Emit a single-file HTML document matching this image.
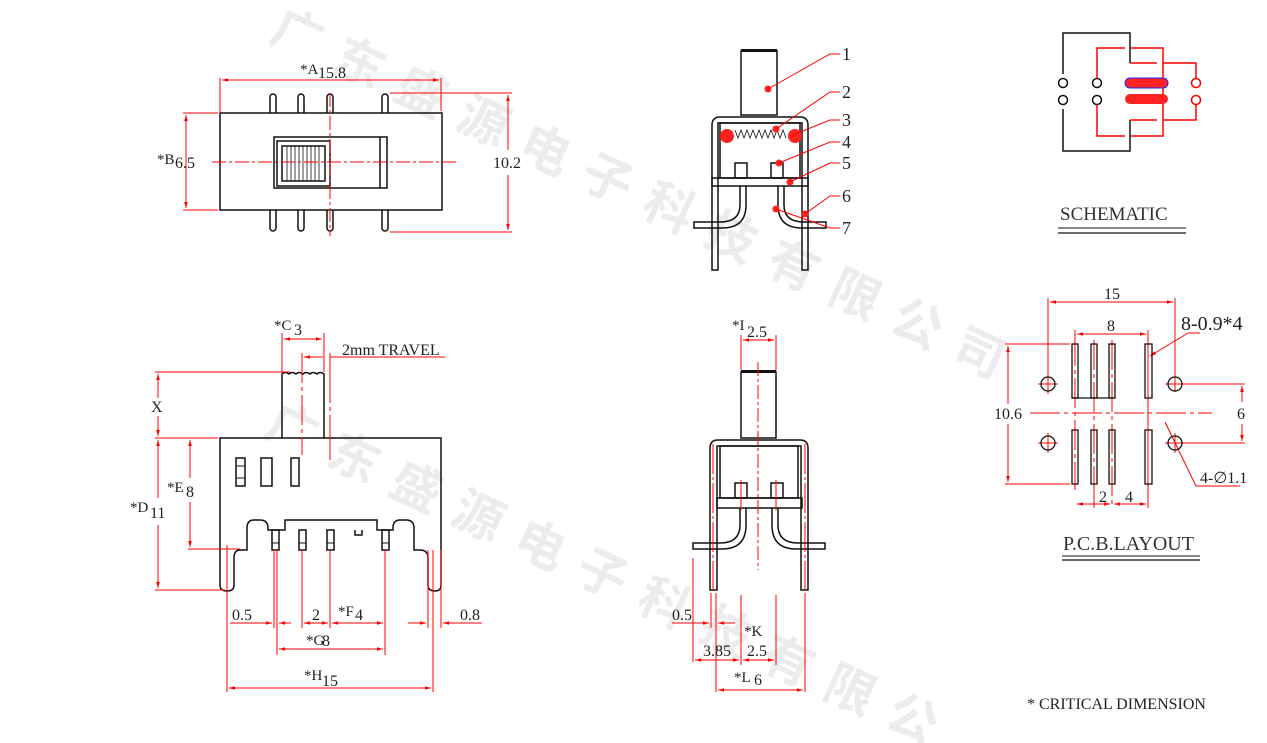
<!DOCTYPE html>
<html><head><meta charset="utf-8"><style>
html,body{margin:0;padding:0;background:#fff;}
svg{display:block;}
text{font-family:"Liberation Serif",serif;fill:#222;}
.wm text{font-family:"Liberation Sans","Noto Sans CJK SC",sans-serif;fill:#ececec;font-size:50px;font-weight:bold;}
.k{stroke:#111;stroke-width:1.5;fill:none;}
.r{stroke:#f00;stroke-width:1;fill:none;}
.cl{stroke:#f00;stroke-width:1;fill:none;stroke-dasharray:14 3 3 3;}
</style></head><body>
<svg width="1267" height="743" viewBox="0 0 1267 743" xmlns="http://www.w3.org/2000/svg">
<defs>
<marker id="a" viewBox="0 0 10 10" refX="10" refY="5" markerWidth="8" markerHeight="6" orient="auto-start-reverse"><path d="M0,2 L10,5 L0,8 z" fill="#f00"/></marker>
</defs>
<!-- watermark -->
<g class="wm" text-anchor="middle">
<text transform="translate(290,50) rotate(25)">广</text>
<text transform="translate(352,79) rotate(25)">东</text>
<text transform="translate(414,108) rotate(25)">盛</text>
<text transform="translate(476,137) rotate(25)">源</text>
<text transform="translate(538,166) rotate(25)">电</text>
<text transform="translate(600,195) rotate(25)">子</text>
<text transform="translate(662,224) rotate(25)">科</text>
<text transform="translate(724,253) rotate(25)">技</text>
<text transform="translate(786,282) rotate(25)">有</text>
<text transform="translate(848,311) rotate(25)">限</text>
<text transform="translate(910,340) rotate(25)">公</text>
<text transform="translate(972,369) rotate(25)">司</text>
<text transform="translate(285,445) rotate(25)">广</text>
<text transform="translate(347,474) rotate(25)">东</text>
<text transform="translate(409,503) rotate(25)">盛</text>
<text transform="translate(471,532) rotate(25)">源</text>
<text transform="translate(533,561) rotate(25)">电</text>
<text transform="translate(595,590) rotate(25)">子</text>
<text transform="translate(657,619) rotate(25)">科</text>
<text transform="translate(719,648) rotate(25)">技</text>
<text transform="translate(781,677) rotate(25)">有</text>
<text transform="translate(843,706) rotate(25)">限</text>
<text transform="translate(905,735) rotate(25)">公</text>
</g>

<!-- ===== TOP VIEW ===== -->
<g class="k">
<rect x="220" y="113" width="222" height="97"/>
<rect x="274" y="137" width="113" height="51"/>
<rect x="277" y="141" width="53" height="45"/>
<rect x="282" y="146" width="43" height="35"/>
<line x1="380" y1="137" x2="380" y2="188"/>
<path d="M270,113 V97 a3,3 0 0 1 6,0 V113 M298,113 V97 a3,3 0 0 1 6,0 V113 M327,113 V97 a3,3 0 0 1 6,0 V113 M382,113 V97 a3,3 0 0 1 6,0 V113"/>
<path d="M270,210 V228 a3,3 0 0 0 6,0 V210 M298,210 V228 a3,3 0 0 0 6,0 V210 M327,210 V228 a3,3 0 0 0 6,0 V210 M382,210 V228 a3,3 0 0 0 6,0 V210"/>
</g>
<g stroke="#111" stroke-width="0.8">
<line x1="287" y1="146" x2="287" y2="181"/><line x1="291" y1="146" x2="291" y2="181"/><line x1="295" y1="146" x2="295" y2="181"/><line x1="299" y1="146" x2="299" y2="181"/><line x1="303" y1="146" x2="303" y2="181"/><line x1="307" y1="146" x2="307" y2="181"/><line x1="311" y1="146" x2="311" y2="181"/><line x1="315" y1="146" x2="315" y2="181"/><line x1="319" y1="146" x2="319" y2="181"/>
</g>
<line class="cl" x1="212" y1="162" x2="458" y2="162"/>
<line class="cl" x1="330" y1="93" x2="330" y2="236"/>
<g class="r">
<line x1="220" y1="78" x2="220" y2="113"/><line x1="441" y1="78" x2="441" y2="111"/>
<line x1="222" y1="80" x2="439" y2="80" marker-start="url(#a)" marker-end="url(#a)"/>
<line x1="183" y1="113" x2="218" y2="113"/><line x1="183" y1="210" x2="218" y2="210"/>
<line x1="186" y1="115" x2="186" y2="208" marker-start="url(#a)" marker-end="url(#a)"/>
<line x1="390" y1="93" x2="512" y2="93"/><line x1="390" y1="232" x2="512" y2="232"/>
<line x1="508" y1="95" x2="508" y2="150" marker-start="url(#a)"/>
<line x1="508" y1="175" x2="508" y2="230" marker-end="url(#a)"/>
</g>
<text x="300" y="74" font-size="15">*A</text><text x="318" y="78" font-size="16">15.8</text>
<text x="157" y="164" font-size="15">*B</text><text x="175" y="168" font-size="16">6.5</text>
<text x="493" y="168" font-size="16">10.2</text>

<!-- ===== FRONT VIEW ===== -->
<g class="k">
<path d="M220,438 H441 V585 Q441,591 435,591 Q428,591 428,585 V558 Q428,550 420,550 H414 V528 Q414,520 406,520 H400 Q393,520 393,528 V530 H377 V520 H285 V530 H268 V528 Q268,520 260,520 H254 Q247,520 247,528 V550 H240 Q234,550 234,558 V585 Q234,591 227,591 Q220,591 220,585 Z"/>
<path d="M282,438 V374 q3,-3 7,0 q3,-3 7,0 q3,-3 7,0 q3,-3 7,0 q3,-3 7,0 q3,-3 7,0 V438"/>
<rect x="236" y="458" width="9" height="28"/><rect x="261" y="458" width="11" height="28"/><rect x="291" y="458" width="8" height="28"/>
<rect x="272" y="530" width="7" height="20"/><rect x="299" y="530" width="7" height="20"/><rect x="327" y="530" width="7" height="20"/><rect x="382" y="530" width="7" height="20"/>
<path d="M355,530 V535 H362 V530"/>
</g>
<g stroke="#111" stroke-width="1"><line x1="236" y1="466" x2="245" y2="466"/><line x1="236" y1="478" x2="245" y2="478"/><line x1="272" y1="543" x2="279" y2="543"/><line x1="299" y1="543" x2="306" y2="543"/><line x1="327" y1="543" x2="334" y2="543"/><line x1="382" y1="543" x2="389" y2="543"/></g>
<g class="r">
<line x1="282" y1="333" x2="282" y2="372"/><line x1="324" y1="333" x2="324" y2="372"/>
<line x1="284" y1="339" x2="322" y2="339" marker-start="url(#a)" marker-end="url(#a)"/>
<line x1="302" y1="353" x2="302" y2="455" stroke-dasharray="30 4 4 4"/>
<line x1="330" y1="353" x2="330" y2="460" stroke-dasharray="50 4 4 4"/>
<line x1="304" y1="357" x2="323" y2="357" marker-start="url(#a)"/>
<line x1="330" y1="357" x2="445" y2="357"/>
<line x1="155" y1="372" x2="290" y2="372"/><line x1="155" y1="438" x2="218" y2="438"/>
<line x1="158" y1="374" x2="158" y2="398" marker-start="url(#a)"/><line x1="158" y1="416" x2="158" y2="436" marker-end="url(#a)"/>
<line x1="158" y1="440" x2="158" y2="498" marker-start="url(#a)"/><line x1="158" y1="525" x2="158" y2="588" marker-end="url(#a)"/>
<line x1="155" y1="590" x2="225" y2="590"/>
<line x1="190" y1="440" x2="190" y2="478" marker-start="url(#a)"/><line x1="190" y1="502" x2="190" y2="547" marker-end="url(#a)"/>
<line x1="188" y1="549" x2="240" y2="549"/>
<line x1="227" y1="552" x2="227" y2="692"/>
<line x1="274" y1="550" x2="274" y2="628"/><line x1="277" y1="550" x2="277" y2="655"/>
<line x1="302" y1="550" x2="302" y2="628"/><line x1="330" y1="550" x2="330" y2="628"/>
<line x1="385" y1="550" x2="385" y2="655"/>
<line x1="428" y1="550" x2="428" y2="628"/><line x1="441" y1="550" x2="441" y2="628"/>
<line x1="433" y1="556" x2="433" y2="692"/>
<line x1="230" y1="623" x2="272" y2="623" marker-end="url(#a)"/>
<line x1="291" y1="623" x2="279" y2="623" marker-end="url(#a)"/>
<line x1="304" y1="623" x2="328" y2="623" marker-start="url(#a)" marker-end="url(#a)"/>
<line x1="332" y1="623" x2="383" y2="623" marker-start="url(#a)" marker-end="url(#a)"/>
<line x1="408" y1="623" x2="426" y2="623" marker-end="url(#a)"/>
<line x1="482" y1="623" x2="443" y2="623" marker-end="url(#a)"/>
<line x1="279" y1="649" x2="383" y2="649" marker-start="url(#a)" marker-end="url(#a)"/>
<line x1="229" y1="688" x2="431" y2="688" marker-start="url(#a)" marker-end="url(#a)"/>
</g>
<line class="cl" x1="227" y1="545" x2="227" y2="600"/><line class="cl" x1="433" y1="550" x2="433" y2="600"/>
<text x="274" y="330" font-size="15">*C</text><text x="294" y="335" font-size="16">3</text>
<text x="342" y="355" font-size="16">2mm TRAVEL</text>
<text x="151" y="412" font-size="16">X</text>
<text x="167" y="492" font-size="15">*E</text><text x="186" y="497" font-size="16">8</text>
<text x="130" y="512" font-size="15">*D</text><text x="150" y="518" font-size="16">11</text>
<text x="232" y="620" font-size="16">0.5</text>
<text x="312" y="620" font-size="16">2</text>
<text x="338" y="616" font-size="15">*F</text><text x="355" y="620" font-size="16">4</text>
<text x="460" y="620" font-size="16">0.8</text>
<text x="306" y="645" font-size="15">*G</text><text x="322" y="646" font-size="16">8</text>
<text x="304" y="680" font-size="15">*H</text><text x="322" y="686" font-size="16">15</text>

<!-- ===== SIDE VIEW TOP ===== -->
<g class="k">
<rect x="741" y="51" width="36" height="64"/>
<path d="M712,270 V125 Q712,117 720,117 H800 Q808,117 808,125 V270 H802 V123 H718 V270 Z"/>
<rect x="720" y="123" width="80" height="55"/>
<rect x="712" y="178" width="96" height="8"/>
<rect x="735" y="163" width="12" height="15"/><rect x="771" y="163" width="12" height="15"/>
<path d="M740,186 V205 Q740,222 720,222 H694 V228 H722 Q746,228 746,205 V186"/>
<path d="M778,186 V205 Q778,228 802,228 H826 V222 H804 Q784,222 784,205 V186"/>
<path d="M735,130 l3,8 l3,-8 l3,8 l3,-8 l3,8 l3,-8 l3,8 l3,-8 l3,8 l3,-8 l3,8 l3,-8 l3,8 l3,-8 l3,8 l3,-8 l3,8" stroke-width="0.8"/>
</g>
<rect x="741" y="49" width="36" height="3" fill="#111"/>
<g fill="#f22"><circle cx="727" cy="136" r="7"/><circle cx="795" cy="136" r="7"/><circle cx="768" cy="89" r="3.5"/><circle cx="776" cy="129" r="3.5"/><circle cx="779" cy="163" r="3.5"/><circle cx="790" cy="182" r="3.5"/><circle cx="805" cy="214" r="3.5"/><circle cx="776" cy="209" r="3.5"/></g>
<g class="r">
<path d="M768,89 L830,54 H840"/><path d="M776,129 L830,92 H840"/><path d="M793,135 L830,120 H840"/><path d="M779,163 L830,142 H840"/><path d="M790,182 L830,163 H840"/><path d="M805,214 L830,196 H840"/><path d="M776,209 L830,228 H840"/>
</g>
<g font-size="18"><text x="842" y="60">1</text><text x="842" y="98">2</text><text x="842" y="126">3</text><text x="842" y="148">4</text><text x="842" y="169">5</text><text x="842" y="202">6</text><text x="842" y="234">7</text></g>

<!-- ===== SIDE VIEW BOTTOM ===== -->
<g class="k">
<rect x="741" y="372" width="35" height="66"/>
<path d="M710,590 V448 Q710,440 718,440 H800 Q808,440 808,448 V590 H801 V446 H717 V590 Z"/>
<rect x="720" y="446" width="78" height="52"/>
<rect x="717" y="498" width="85" height="10"/>
<rect x="735" y="483" width="12" height="15"/><rect x="771" y="483" width="12" height="15"/>
<path d="M740,508 V525 Q740,543 720,543 H693 V549 H722 Q746,549 746,525 V508"/>
<path d="M772,508 V525 Q772,549 796,549 H825 V543 H798 Q778,543 778,525 V508"/>
</g>
<rect x="741" y="370" width="35" height="3" fill="#111"/>
<line class="cl" x1="758" y1="362" x2="758" y2="570"/>
<g class="r">
<line x1="741" y1="335" x2="741" y2="370"/><line x1="776" y1="335" x2="776" y2="370"/>
<line x1="743" y1="340" x2="774" y2="340" marker-start="url(#a)" marker-end="url(#a)"/>
<line x1="713" y1="444" x2="713" y2="590" stroke-dasharray="30 3 3 3"/><line x1="805" y1="444" x2="805" y2="590" stroke-dasharray="30 3 3 3"/>
<line x1="741" y1="480" x2="741" y2="510"/><line x1="776" y1="480" x2="776" y2="510"/>
<line x1="693" y1="558" x2="693" y2="662"/>
<line x1="711" y1="593" x2="711" y2="628"/><line x1="716" y1="593" x2="716" y2="692"/>
<line x1="741" y1="595" x2="741" y2="665"/><line x1="776" y1="595" x2="776" y2="665"/>
<line x1="805" y1="593" x2="805" y2="692"/>
<line x1="672" y1="623" x2="709" y2="623" marker-end="url(#a)"/>
<line x1="735" y1="623" x2="718" y2="623" marker-end="url(#a)"/>
<line x1="695" y1="660" x2="739" y2="660" marker-start="url(#a)" marker-end="url(#a)"/>
<line x1="743" y1="660" x2="774" y2="660" marker-start="url(#a)" marker-end="url(#a)"/>
<line x1="718" y1="690" x2="803" y2="690" marker-start="url(#a)" marker-end="url(#a)"/>
</g>
<text x="732" y="330" font-size="15">*I</text><text x="747" y="337" font-size="16">2.5</text>
<text x="672" y="620" font-size="16">0.5</text>
<text x="703" y="656" font-size="16">3.85</text>
<text x="744" y="636" font-size="15">*K</text><text x="747" y="656" font-size="16">2.5</text>
<text x="734" y="682" font-size="15">*L</text><text x="754" y="685" font-size="16">6</text>

<!-- ===== SCHEMATIC ===== -->
<g stroke="#111" stroke-width="1.5" fill="none">
<path d="M1063,74 V33 H1130 V63 M1130,120 V151 H1063 V109"/>
<circle cx="1063" cy="83" r="4.5"/><circle cx="1063" cy="100" r="4.5"/>
<circle cx="1097" cy="83" r="4.5"/><circle cx="1097" cy="100" r="4.5"/>
</g>
<g stroke="#f00" stroke-width="1.5" fill="none">
<path d="M1097,78 V48 H1125 M1131,48 H1163 V136 H1131 M1125,136 H1097 V105"/>
<path d="M1130,63 H1157 M1163,63 H1196 V78 M1196,105 V120 H1163 M1157,120 H1130"/>
<circle cx="1196" cy="83" r="4.5"/><circle cx="1196" cy="100" r="4.5"/>
</g>
<rect x="1125" y="78" width="43" height="10" rx="5" fill="#f22" stroke="#22f" stroke-width="1"/>
<rect x="1125" y="94" width="43" height="10" rx="5" fill="#f22"/>
<text x="1060" y="220" font-size="19" style="fill:#333">SCHEMATIC</text>
<line x1="1058" y1="228" x2="1186" y2="228" stroke="#444" stroke-width="1.2"/>
<line x1="1058" y1="233" x2="1186" y2="233" stroke="#111" stroke-width="1.2"/>

<!-- ===== PCB ===== -->
<g class="r">
<line x1="1048" y1="298" x2="1048" y2="392"/><line x1="1175" y1="298" x2="1175" y2="392"/>
<line x1="1050" y1="302" x2="1173" y2="302" marker-start="url(#a)" marker-end="url(#a)"/>
<line x1="1075" y1="330" x2="1075" y2="344"/><line x1="1148" y1="330" x2="1148" y2="344"/>
<line x1="1077" y1="334" x2="1146" y2="334" marker-start="url(#a)" marker-end="url(#a)"/>
<line x1="1005" y1="344" x2="1070" y2="344"/><line x1="1005" y1="484" x2="1070" y2="484"/>
<line x1="1008" y1="346" x2="1008" y2="404" marker-start="url(#a)"/><line x1="1008" y1="424" x2="1008" y2="482" marker-end="url(#a)"/>
<line x1="1183" y1="384" x2="1245" y2="384"/><line x1="1183" y1="443" x2="1245" y2="443"/>
<line x1="1242" y1="386" x2="1242" y2="402" marker-start="url(#a)"/><line x1="1242" y1="424" x2="1242" y2="441" marker-end="url(#a)"/>
<line x1="1030" y1="413" x2="1212" y2="413" stroke-dasharray="30 4 4 4"/>
<line x1="1075" y1="336" x2="1075" y2="490" stroke-dasharray="30 4 4 4"/>
<line x1="1094" y1="340" x2="1094" y2="490" stroke-dasharray="30 4 4 4"/>
<line x1="1112" y1="340" x2="1112" y2="508" stroke-dasharray="30 4 4 4"/>
<line x1="1148" y1="336" x2="1148" y2="508"/>
<line x1="1094" y1="484" x2="1094" y2="508"/>
<line x1="1077" y1="504" x2="1110" y2="504" marker-start="url(#a)" marker-end="url(#a)"/>
<line x1="1114" y1="504" x2="1146" y2="504" marker-start="url(#a)" marker-end="url(#a)"/>
<line x1="1150" y1="356" x2="1188" y2="333" marker-start="url(#a)"/>
<line x1="1188" y1="333" x2="1200" y2="333"/>
<path d="M1165,422 L1196,486 H1240"/>
<line x1="1038" y1="384" x2="1058" y2="384"/><line x1="1048" y1="374" x2="1048" y2="394"/>
<line x1="1038" y1="443" x2="1058" y2="443"/><line x1="1048" y1="433" x2="1048" y2="453"/>
<line x1="1165" y1="384" x2="1185" y2="384"/>
<line x1="1165" y1="443" x2="1185" y2="443"/><line x1="1175" y1="433" x2="1175" y2="453"/>
</g>
<g stroke="#111" stroke-width="1.3" fill="none">
<rect x="1072" y="344" width="6" height="54"/><rect x="1091" y="344" width="6" height="54"/><rect x="1109" y="344" width="6" height="54"/><rect x="1145" y="344" width="7" height="54"/>
<line x1="1072" y1="398" x2="1115" y2="398"/>
<rect x="1072" y="430" width="6" height="54"/><rect x="1091" y="430" width="6" height="54"/><rect x="1109" y="430" width="6" height="54"/><rect x="1145" y="430" width="7" height="54"/>
<circle cx="1048" cy="384" r="7"/><circle cx="1175" cy="384" r="7"/><circle cx="1048" cy="443" r="7"/><circle cx="1175" cy="443" r="7"/>
</g>
<text x="1104" y="299" font-size="16">15</text>
<text x="1107" y="331" font-size="16">8</text>
<text x="1181" y="330" font-size="20">8-0.9*4</text>
<text x="994" y="419" font-size="16">10.6</text>
<text x="1237" y="419" font-size="16">6</text>
<text x="1200" y="483" font-size="16">4-∅1.1</text>
<text x="1099" y="502" font-size="16">2</text>
<text x="1125" y="502" font-size="16">4</text>
<text x="1063" y="550" font-size="20" style="fill:#333">P.C.B.LAYOUT</text>
<line x1="1062" y1="556" x2="1200" y2="556" stroke="#444" stroke-width="1.2"/>
<line x1="1062" y1="560" x2="1200" y2="560" stroke="#111" stroke-width="1.2"/>

<text x="1027" y="709" font-size="16">* CRITICAL  DIMENSION</text>
</svg>
</body></html>
